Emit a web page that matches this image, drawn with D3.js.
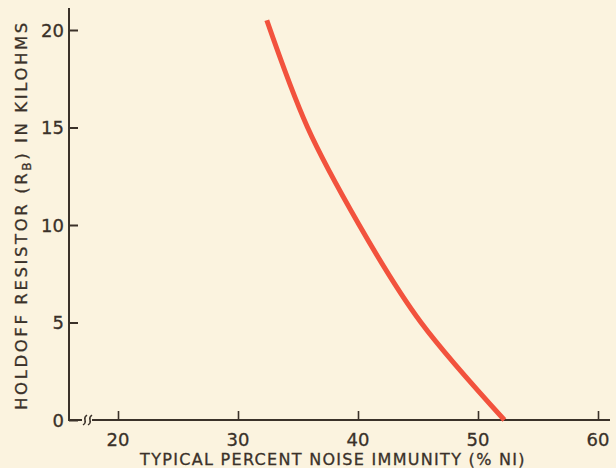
<!DOCTYPE html>
<html><head><meta charset="utf-8">
<script src="https://cdn.jsdelivr.net/npm/d3@7"></script>
<style>body{margin:0;background:#fbf3df;}svg{display:block;}</style>
</head><body>
<svg id="c" width="616" height="468"></svg>
<script>
const xTicks = [20, 30, 40, 50, 60];
const yTicks = [0, 5, 10, 15, 20];
const xTitle = "TYPICAL PERCENT NOISE IMMUNITY (% NI)";
const noiseImmunity = [52.2, 45.25, 40.1, 35.8, 32.4];
const holdoffK = [0, 5, 10, 15, 20.5];

const svg = d3.select("#c");
const ink = "#3a3129";
const x = d3.scaleLinear().domain([20, 60]).range([118, 598]);
const y = d3.scaleLinear().domain([0, 20]).range([420, 30]);
const font = "DejaVu Sans, sans-serif";

svg.append("rect").attr("width",616).attr("height",468).attr("fill","#fbf3df");

// axes lines
svg.append("line").attr("x1",69).attr("x2",69).attr("y1",y(0)+1).attr("y2",8)
  .attr("stroke",ink).attr("stroke-width",2);
svg.append("line").attr("x1",68).attr("x2",82).attr("y1",y(0)).attr("y2",y(0))
  .attr("stroke",ink).attr("stroke-width",2);
svg.append("line").attr("x1",92).attr("x2",610).attr("y1",y(0)).attr("y2",y(0))
  .attr("stroke",ink).attr("stroke-width",2);
// break mark
[83, 88].forEach(bx => {
  svg.append("path").attr("d",`M${bx},${y(0)+5} q3,-2 2,-5 q-1,-3 2,-5`)
    .attr("fill","none").attr("stroke",ink).attr("stroke-width",1.5);
});

// y ticks
const yAxis = d3.axisRight(y).tickValues(yTicks).tickSize(9).tickFormat("");
const yg = svg.append("g").attr("transform","translate(69,0)").call(yAxis);
yg.select(".domain").remove();
yg.selectAll("line").attr("stroke",ink).attr("stroke-width",2);
svg.selectAll(".ylab").data(yTicks).enter().append("text")
  .attr("x",64).attr("y",d=>y(d)+6.5).attr("text-anchor","end")
  .attr("font-family",font).attr("font-size",18).attr("fill",ink)
  .attr("stroke",ink).attr("stroke-width",0.3).text(d=>d);

// x ticks
const xAxis = d3.axisTop(x).tickValues(xTicks).tickSize(9).tickFormat("");
const xg = svg.append("g").attr("transform",`translate(0,${y(0)})`).call(xAxis);
xg.select(".domain").remove();
xg.selectAll("line").attr("stroke",ink).attr("stroke-width",1.6);
svg.selectAll(".xlab").data(xTicks).enter().append("text")
  .attr("x",d=>x(d)).attr("y",446).attr("text-anchor","middle")
  .attr("font-family",font).attr("font-size",18).attr("fill",ink)
  .attr("stroke",ink).attr("stroke-width",0.3).text(d=>d);

// titles
svg.append("text").attr("x",333).attr("y",465).attr("text-anchor","middle")
  .attr("font-family",font).attr("font-size",16).attr("letter-spacing",1.3)
  .attr("fill",ink).attr("stroke",ink).attr("stroke-width",0.3).text(xTitle);
const yt = svg.append("text").attr("transform","translate(27,215) rotate(-90)")
  .attr("text-anchor","middle").attr("font-family",font).attr("font-size",16.5)
  .attr("letter-spacing",2.6).attr("fill",ink).attr("stroke",ink).attr("stroke-width",0.3);
yt.append("tspan").text("HOLDOFF RESISTOR (R");
yt.append("tspan").attr("font-size",12).attr("dy",4).text("B");
yt.append("tspan").attr("dy",-4).text(") IN KILOHMS");

// curve
const pts = noiseImmunity.map((v,i)=>[v, holdoffK[i]]);
svg.append("path").datum(pts)
  .attr("d", d3.line().x(d=>x(d[0])).y(d=>y(d[1])).curve(d3.curveNatural))
  .attr("fill","none").attr("stroke","#f2523d").attr("stroke-width",5);
</script>
</body></html>
